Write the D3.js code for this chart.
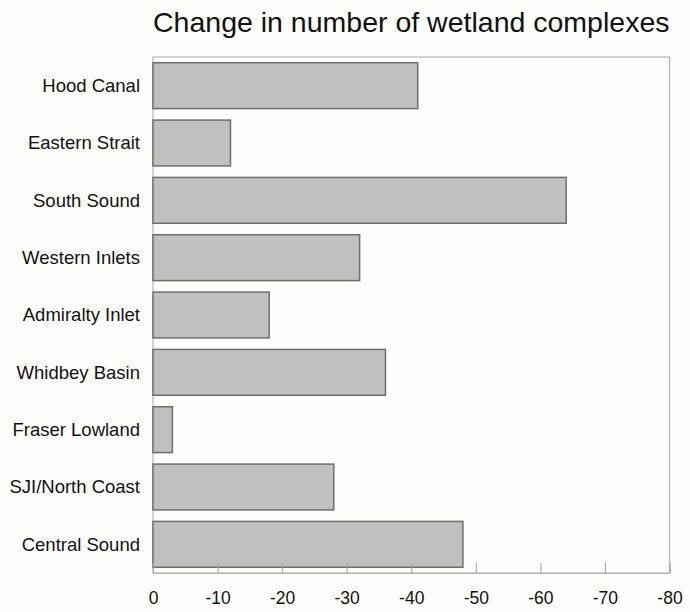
<!DOCTYPE html>
<html>
<head>
<meta charset="utf-8">
<script src="https://cdn.jsdelivr.net/npm/d3@7"></script>
<style>
  html, body { margin: 0; padding: 0; background: #fefefc; }
  svg { display: block; }
</style>
</head>
<body>
<svg id="chart" width="690" height="612"></svg>
<script>
const title = "Change in number of wetland complexes";
const categories = ["Hood Canal", "Eastern Strait", "South Sound", "Western Inlets", "Admiralty Inlet", "Whidbey Basin", "Fraser Lowland", "SJI/North Coast", "Central Sound"];
const values = [-41, -12, -64, -32, -18, -36, -3, -28, -48];
const tickValues = [0, -10, -20, -30, -40, -50, -60, -70, -80];

const svg = d3.select("#chart");
const margin = { left: 153, right: 20.5, top: 57, bottom: 39 };
const W = 690, H = 612;
const x = d3.scaleLinear().domain([0, -80]).range([margin.left, W - margin.right]);
const y = d3.scaleBand().domain(categories).range([margin.top, H - margin.bottom]).paddingInner(0.2).paddingOuter(0.1);

svg.append("rect").attr("width", W).attr("height", H).attr("fill", "#fefefc");

// plot frame
svg.append("rect")
  .attr("x", x(0)).attr("y", margin.top)
  .attr("width", x(-80) - x(0)).attr("height", H - margin.bottom - margin.top)
  .attr("fill", "#fefefc").attr("stroke", "#b4b4b4").attr("stroke-width", 1.2);

// bars
svg.append("g").selectAll("rect").data(categories).join("rect")
  .attr("x", x(0))
  .attr("y", (d) => y(d))
  .attr("width", (d, i) => x(values[i]) - x(0))
  .attr("height", y.bandwidth())
  .attr("fill", "#c0c0c0")
  .attr("stroke", "#6e6e6e")
  .attr("stroke-width", 1.5);

// x axis (inside ticks)
const xAxis = svg.append("g")
  .attr("transform", `translate(0,${H - margin.bottom})`)
  .call(d3.axisBottom(x).tickValues(tickValues).tickFormat(d3.format("d")).tickSize(-10).tickPadding(0));
xAxis.select(".domain").attr("stroke", "#b4b4b4");
xAxis.selectAll(".tick line").attr("stroke", "#a0a0a0");
xAxis.selectAll(".tick text")
  .attr("y", 31)
  .attr("dy", 0)
  .attr("fill", "#111")
  .style("font-family", "Liberation Sans, Arial, sans-serif")
  .style("font-size", "17.5px")
  .text((d) => d === 0 ? "0" : "-" + Math.abs(d));

// y labels
svg.append("g").selectAll("text").data(categories).join("text")
  .attr("x", 140)
  .attr("y", (d) => y(d) + y.bandwidth() / 2)
  .attr("dy", "0.35em")
  .attr("text-anchor", "end")
  .attr("fill", "#111")
  .style("font-family", "Liberation Sans, Arial, sans-serif")
  .style("font-size", "18.5px")
  .text((d) => d);

// title
svg.append("text")
  .attr("x", (x(0) + x(-80)) / 2)
  .attr("y", 32)
  .attr("text-anchor", "middle")
  .attr("fill", "#111")
  .style("font-family", "Liberation Sans, Arial, sans-serif")
  .style("font-size", "28.5px")
  .text(title);
</script>
</body>
</html>
